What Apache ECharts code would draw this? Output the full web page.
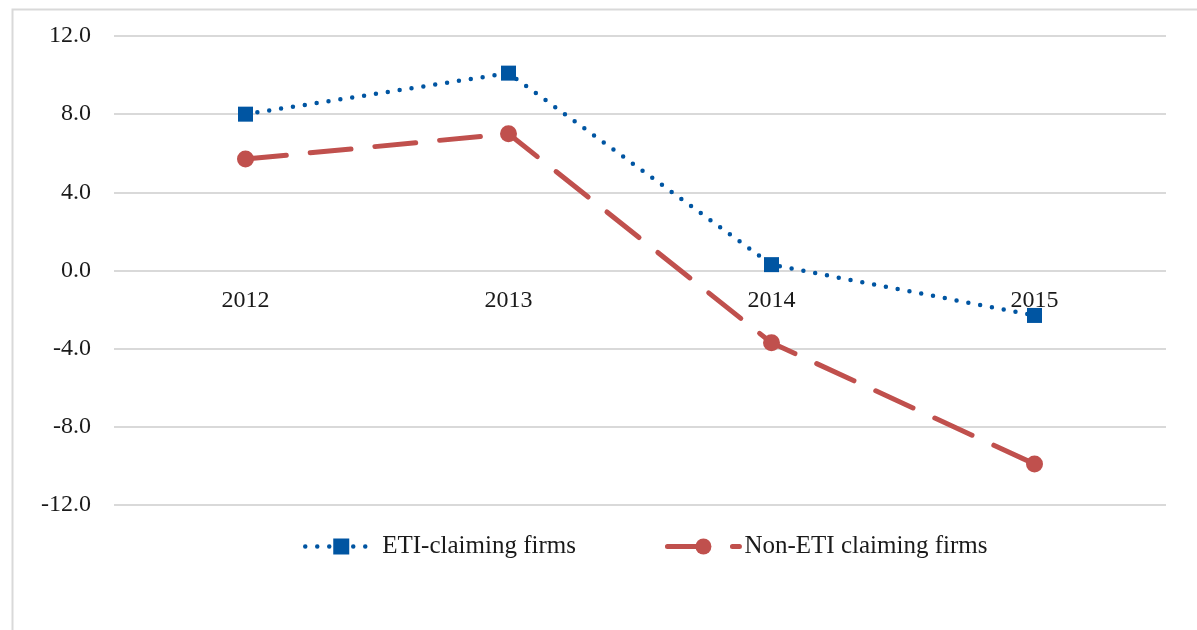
<!DOCTYPE html>
<html>
<head>
<meta charset="utf-8">
<script src="https://cdn.jsdelivr.net/npm/echarts@6/dist/echarts.min.js"></script>
<style>
html,body{margin:0;padding:0;background:#fff;}
#chart{width:1197px;height:630px;}
</style>
</head>
<body>
<div id="chart"></div>
<script>
const categories = ['2012', '2013', '2014', '2015'];
const etiClaiming = [8.0, 10.1, 0.3, -2.3];
const nonEtiClaiming = [5.7, 7.0, -3.7, -9.9];
const seriesNames = ['ETI-claiming firms', 'Non-ETI claiming firms'];
const yTicks = { min: -12, max: 12, interval: 4 };

const FONT = '"Liberation Serif", "DejaVu Serif", serif';
const FS = 24;
const GRID_TOP = 36, GRID_BOTTOM = 125, H = 630;
const plotH = H - GRID_TOP - GRID_BOTTOM;
// place the category axis where value 0 falls (midpoint of the symmetric range)
const zeroOffset = -plotH * (0 - yTicks.min) / (yTicks.max - yTicks.min);

const chart = echarts.init(document.getElementById('chart'));
chart.setOption({
  backgroundColor: '#fff',
  animation: false,
  textStyle: { fontFamily: FONT },
  graphic: [{
    type: 'rect',
    left: 10, top: 7,
    shape: { width: 1300, height: 700 },
    style: { fill: 'none', stroke: '#d9d9d9', lineWidth: 2 },
    silent: true
  }],
  grid: { left: 114, right: 31, top: GRID_TOP, bottom: GRID_BOTTOM, containLabel: false },
  legend: {
    left: 298, top: 529,
    itemWidth: 72, itemHeight: 20, itemGap: 89,
    textStyle: { fontFamily: FONT, fontSize: 25, color: '#1a1a1a' },
    data: [
      { name: seriesNames[0], lineStyle: { width: 4.5 } },
      { name: seriesNames[1], lineStyle: { width: 5 } }
    ]
  },
  xAxis: {
    type: 'category',
    data: categories,
    boundaryGap: true,
    offset: zeroOffset,
    axisLine: { show: false, onZero: false },
    axisTick: { show: false },
    axisLabel: { fontFamily: FONT, fontSize: FS, color: '#1a1a1a', margin: 18 }
  },
  yAxis: {
    type: 'value',
    min: yTicks.min, max: yTicks.max, interval: yTicks.interval,
    axisLine: { show: false },
    axisTick: { show: false },
    axisLabel: { fontFamily: FONT, fontSize: FS, color: '#1a1a1a', margin: 23,
      formatter: v => v.toFixed(1) },
    splitLine: { lineStyle: { color: '#d9d9d9', width: 2 } }
  },
  series: [
    {
      name: seriesNames[0], type: 'line', data: etiClaiming,
      symbol: 'rect', symbolSize: 15,
      itemStyle: { color: '#0055a2' },
      lineStyle: { color: '#0055a2', width: 4.5, type: [0, 12], cap: 'round' },
      z: 3
    },
    {
      name: seriesNames[1], type: 'line', data: nonEtiClaiming,
      symbol: 'circle', symbolSize: 17,
      itemStyle: { color: '#c0504d' },
      lineStyle: { color: '#c0504d', width: 5, type: [41, 24], cap: 'round' },
      z: 2
    }
  ]
});
</script>
</body>
</html>
